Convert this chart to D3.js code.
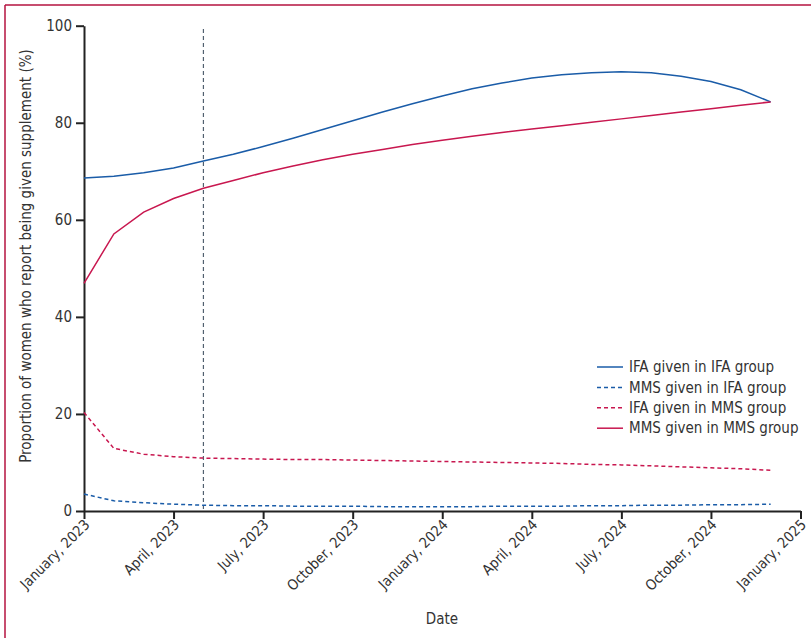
<!DOCTYPE html>
<html>
<head>
<meta charset="utf-8">
<script src="https://cdn.jsdelivr.net/npm/d3@7"></script>
<style>
  html, body { margin: 0; padding: 0; background: #fff; }
  svg { display: block; }
  text { font-family: "Liberation Sans Narrow", "DejaVu Sans Condensed", "Roboto", sans-serif; fill: #333; }
</style>
</head>
<body>
<svg id="chart" width="811" height="638"></svg>
<script>
// Month index 0 = January 2023; one value per month through December 2024
const months = d3.range(0, 24);
const tickMonths = [0, 3, 6, 9, 12, 15, 18, 21, 24];
const tickLabels = ["January, 2023", "April, 2023", "July, 2023", "October, 2023",
  "January, 2024", "April, 2024", "July, 2024", "October, 2024", "January, 2025"];
const yTicks = [0, 20, 40, 60, 80, 100];
const cutoverMonth = 4; // May 2023

const ifaInIfa = [68.6, 69.0, 69.7, 70.7, 72.1, 73.5, 75.1, 76.8, 78.6, 80.4, 82.2, 83.9,
  85.5, 87.0, 88.2, 89.2, 89.9, 90.3, 90.5, 90.3, 89.6, 88.5, 86.8, 84.3];
const mmsInIfa = [3.5, 2.1, 1.7, 1.4, 1.2, 1.1, 1.1, 1.0, 1.0, 1.0, 0.9, 0.9,
  0.9, 0.9, 1.0, 1.0, 1.0, 1.1, 1.1, 1.2, 1.2, 1.3, 1.3, 1.4];
const ifaInMms = [20.3, 12.9, 11.7, 11.2, 10.9, 10.8, 10.7, 10.6, 10.6, 10.5, 10.4, 10.3,
  10.2, 10.1, 10.0, 9.9, 9.8, 9.6, 9.5, 9.3, 9.1, 8.9, 8.7, 8.4];
const mmsInMms = [46.9, 57.1, 61.6, 64.4, 66.5, 68.1, 69.7, 71.1, 72.4, 73.5, 74.5, 75.5,
  76.4, 77.2, 78.0, 78.7, 79.4, 80.1, 80.8, 81.5, 82.2, 82.9, 83.6, 84.3];

const seriesNames = ["IFA given in IFA group", "MMS given in IFA group",
  "IFA given in MMS group", "MMS given in MMS group"];
const seriesValues = [ifaInIfa, mmsInIfa, ifaInMms, mmsInMms];
const seriesColors = ["#1a5ca8", "#1a5ca8", "#c8174f", "#c8174f"];
const seriesDashed = [false, true, true, false];

const svg = d3.select("#chart");

// Frame along the top and left edges
svg.append("line").attr("x1", 5).attr("y1", 5).attr("x2", 811).attr("y2", 5)
  .attr("stroke", "#b5123f").attr("stroke-width", 1.5);
svg.append("line").attr("x1", 5).attr("y1", 5).attr("x2", 5).attr("y2", 638)
  .attr("stroke", "#b5123f").attr("stroke-width", 1.5);

const x = d3.scaleLinear().domain([0, 24]).range([84, 800.5]);
const y = d3.scaleLinear().domain([0, 100]).range([511, 25.7]);

// Y axis
const yAxis = svg.append("g").attr("transform", "translate(84,0)")
  .call(d3.axisLeft(y).tickValues(yTicks).tickSize(8).tickSizeOuter(0).tickPadding(4));
yAxis.selectAll("text").attr("font-size", 15).attr("fill", "#333");

// X axis with rotated date labels
const xAxis = svg.append("g").attr("transform", "translate(0,511)")
  .call(d3.axisBottom(x).tickValues(tickMonths).tickSize(8).tickSizeOuter(0)
    .tickFormat((d, i) => tickLabels[i]));
xAxis.selectAll("text")
  .attr("font-size", 14.5).attr("fill", "#333")
  .attr("text-anchor", "end")
  .attr("transform", "translate(2.5,11) rotate(-45)")
  .attr("dy", "0.35em").attr("y", 0).attr("x", 0);

[yAxis, xAxis].forEach(g => {
  g.selectAll(".domain").attr("stroke", "#222").attr("stroke-width", 2);
  g.selectAll(".tick line").attr("stroke", "#222").attr("stroke-width", 2);
});

// Vertical reference line at the switch month
svg.append("line")
  .attr("x1", x(cutoverMonth)).attr("x2", x(cutoverMonth))
  .attr("y1", y(99.3)).attr("y2", y(0))
  .attr("stroke", "#51606f").attr("stroke-width", 1.2)
  .attr("stroke-dasharray", "4,3");

// Series lines
const line = d3.line().x((d, i) => x(months[i])).y(d => y(d));
seriesValues.forEach((vals, k) => {
  svg.append("path").datum(vals)
    .attr("d", line)
    .attr("fill", "none")
    .attr("stroke", seriesColors[k])
    .attr("stroke-width", 1.5)
    .attr("stroke-dasharray", seriesDashed[k] ? "4,3" : null);
});

// Legend
const legend = svg.append("g").attr("transform", "translate(597,367)");
seriesNames.forEach((name, k) => {
  const row = legend.append("g").attr("transform", `translate(0,${k * 20.4})`);
  row.append("line").attr("x1", 0).attr("x2", 26).attr("y1", 0).attr("y2", 0)
    .attr("stroke", seriesColors[k]).attr("stroke-width", 1.5)
    .attr("stroke-dasharray", seriesDashed[k] ? "4,3" : null);
  row.append("text").attr("x", 32).attr("y", 0).attr("dy", "0.35em")
    .attr("font-size", 15).text(name);
});

// Axis titles
svg.append("text").attr("x", 442).attr("y", 624).attr("text-anchor", "middle")
  .attr("font-size", 15).text("Date");
svg.append("text")
  .attr("transform", "translate(31,256) rotate(-90)")
  .attr("text-anchor", "middle").attr("font-size", 15)
  .text("Proportion of women who report being given supplement (%)");
</script>
</body>
</html>
